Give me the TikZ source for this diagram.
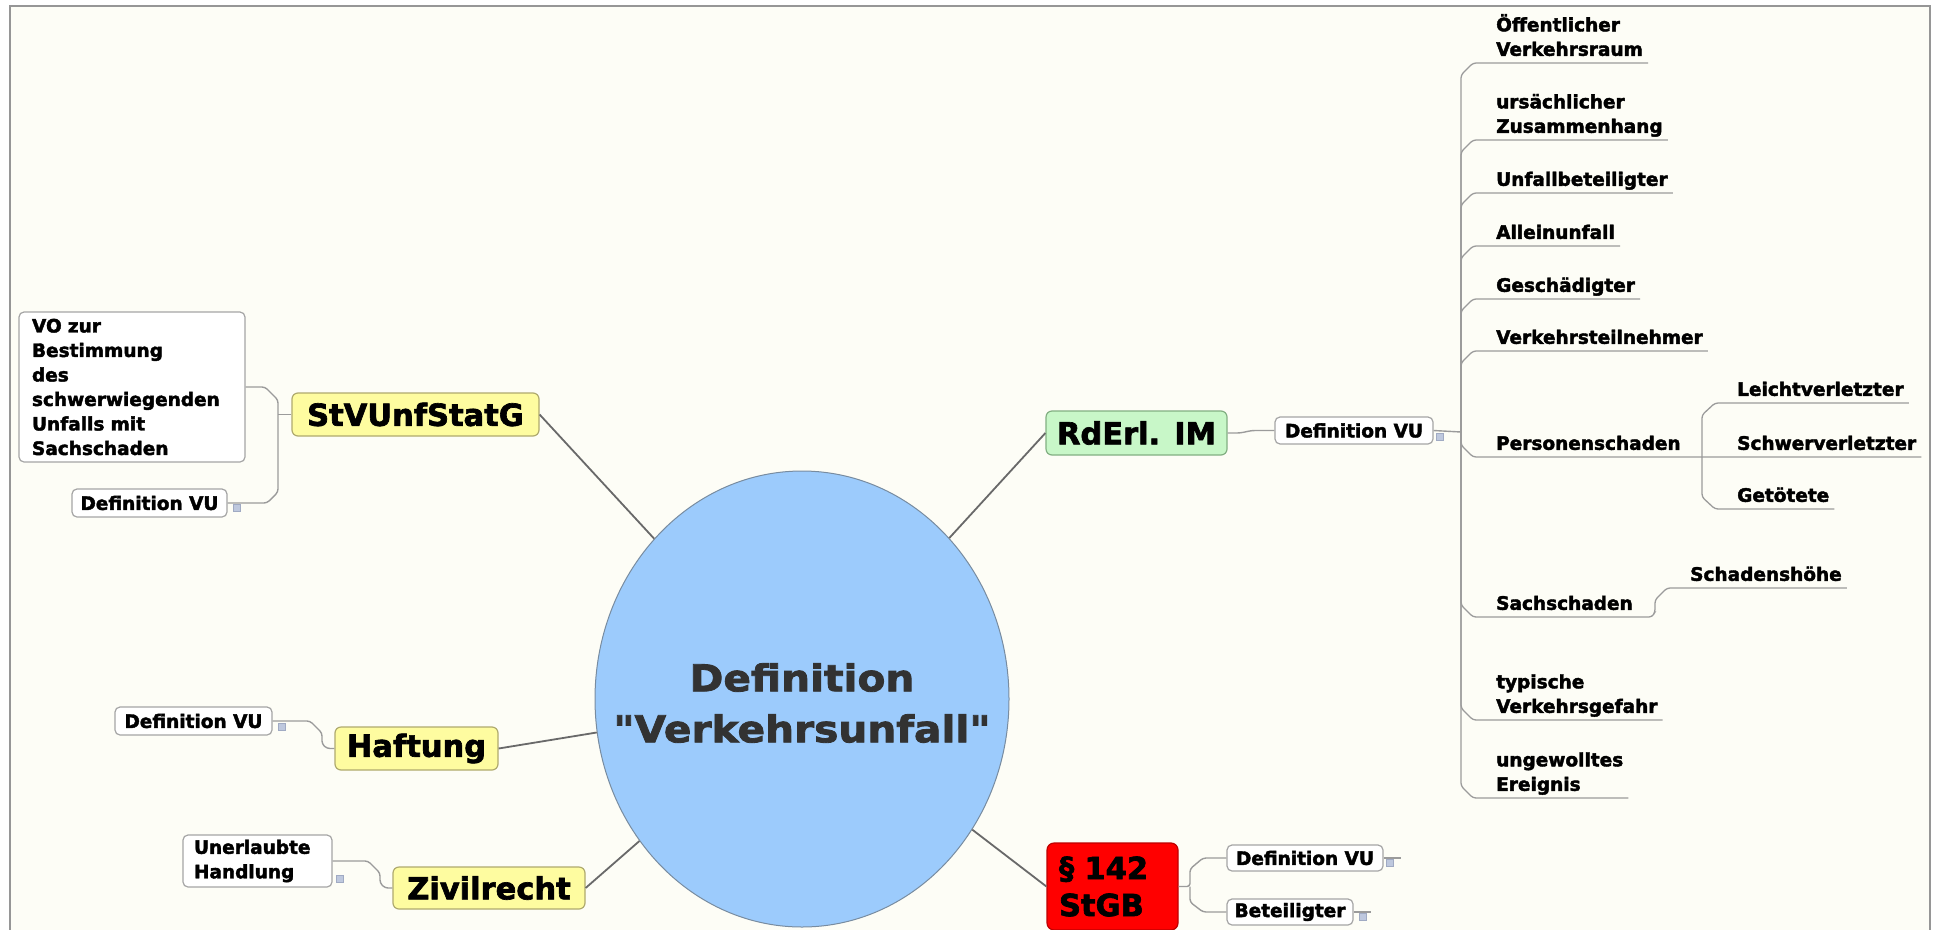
\documentclass[tikz,border=0pt]{standalone}
\usepackage{fontspec}
\setmainfont{DejaVu Sans}[BoldFeatures={FakeBold=2.2}]
\newfontfamily\widefont{DejaVu Sans}[FakeStretch=1.1, BoldFeatures={FakeBold=2.2}]
\usetikzlibrary{calc,shapes.geometric}
\definecolor{bgcream}{RGB}{253,253,246}
\definecolor{framegray}{RGB}{150,150,150}
\definecolor{ellblue}{RGB}{156,203,252}
\definecolor{ellborder}{RGB}{120,140,160}
\definecolor{yel}{RGB}{254,252,160}
\definecolor{yelborder}{RGB}{175,170,110}
\definecolor{grn}{RGB}{200,247,200}
\definecolor{grnborder}{RGB}{130,175,130}
\definecolor{redfill}{RGB}{255,0,0}
\definecolor{redborder}{RGB}{190,0,0}
\definecolor{boxborder}{RGB}{165,165,165}
\definecolor{mainline}{RGB}{105,105,105}
\definecolor{subline}{RGB}{155,155,155}
\definecolor{iconfill}{RGB}{190,200,222}
\definecolor{iconborder}{RGB}{160,170,195}
\definecolor{centertext}{RGB}{50,50,50}
\begin{document}
\begin{tikzpicture}[x=1pt,y=-1pt,
  smalltxt/.style={font=\bfseries\fontsize{18.5}{24.5}\selectfont},
  midtxt/.style={font=\bfseries\fontsize{30.5}{37}\selectfont},
  whitebox/.style={smalltxt, draw=boxborder, line width=1.2pt, fill=white, rounded corners=5pt, inner sep=0pt},
  yelbox/.style={midtxt, draw=yelborder, fill=yel, rounded corners=6pt, line width=1.2pt, inner sep=0pt},
  grnbox/.style={midtxt, draw=grnborder, fill=grn, rounded corners=6pt, line width=1.2pt, inner sep=0pt},
  redbox/.style={midtxt, draw=redborder, fill=redfill, rounded corners=7pt, line width=1.2pt, inner sep=0pt},
  rchild/.style={smalltxt, anchor=south west, inner xsep=0pt, inner ysep=7pt, text depth=0pt, align=left},
  mainconn/.style={draw=mainline, line width=1.8pt},
  subconn/.style={draw=subline, line width=1.4pt, rounded corners=3pt},
  treeline/.style={draw=subline, line width=1.3pt, rounded corners=3pt},
  iconsq/.style={draw=iconborder, fill=iconfill, line width=0.5pt, minimum size=7pt, inner sep=0pt},
]
\useasboundingbox (0,0) rectangle (1934,929);
\clip (0,0) rectangle (1934,929);
\fill[white] (0,0) rectangle (1934,929);
\draw[framegray, line width=1.5pt, fill=bgcream] (10,6) rectangle (1930,960);

% centre
\node[ellipse, draw=ellborder, fill=ellblue, line width=1pt, minimum width=414pt, minimum height=456pt, inner sep=0pt] (c) at (802,699) {};
\node[align=center, text=centertext, font=\widefont\bfseries\fontsize{37}{51}\selectfont, inner sep=0pt] (ctext) at (802,703) {Definition\\"Verkehrsunfall"};

% left side
\node[yelbox, minimum width=247pt, minimum height=43pt] (stv) at (415.5,414.5) {StVUnfStatG};
\node[whitebox, minimum width=226pt, minimum height=150pt, text width=200pt, align=left] (vo) at (132,387) {VO zur\\Bestimmung\\des\\schwerwiegenden\\Unfalls mit\\Sachschaden};
\node[whitebox, minimum width=155pt, minimum height=28pt] (dv1) at (149.5,503) {Definition VU};

\node[yelbox, minimum width=163pt, minimum height=43pt] (haft) at (416.5,748.5) {Haftung};
\node[whitebox, minimum width=157pt, minimum height=28pt] (dv2) at (193.5,721) {Definition VU};

\node[yelbox, minimum width=192pt, minimum height=42pt] (ziv) at (489,888) {Zivilrecht};
\node[whitebox, minimum width=149pt, minimum height=52pt, text width=127pt, align=left] (ue) at (257.5,861) {Unerlaubte\\Handlung};

% right side
\node[grnbox, minimum width=181pt, minimum height=44pt] (rd) at (1136.5,433) {RdErl. IM};
\node[whitebox, minimum width=158pt, minimum height=27pt] (dv3) at (1354,430.5) {Definition VU};

\node[redbox, minimum width=131pt, minimum height=87pt, text width=107pt, align=left] (st) at (1112.5,886.5) {§ 142\\StGB};
\node[whitebox, minimum width=156pt, minimum height=26pt] (dv4) at (1305,858) {Definition VU};
\node[whitebox, minimum width=126pt, minimum height=26pt] (bet) at (1290,912) {Beteiligter};

% right tree children
\coordinate (trunk) at (1461,432);
\node[rchild] (oef) at (1496,63) {Öffentlicher\\Verkehrsraum};
\node[rchild] (urs) at (1496,140) {ursächlicher\\Zusammenhang};
\node[rchild] (unf) at (1496,193) {Unfallbeteiligter};
\node[rchild] (all) at (1496,246) {Alleinunfall};
\node[rchild] (ges) at (1496,299) {Geschädigter};
\node[rchild] (vkt) at (1496,351) {Verkehrsteilnehmer};
\node[rchild] (per) at (1496,457) {Personenschaden};
\node[rchild] (lei) at (1737,403) {Leichtverletzter};
\node[rchild] (sch) at (1737,457) {Schwerverletzter};
\node[rchild] (get) at (1737,509) {Getötete};
\node[rchild] (sac) at (1496,617) {Sachschaden};
\node[rchild] (hoe) at (1690,588) {Schadenshöhe};
\node[rchild] (typ) at (1496,720) {typische\\Verkehrsgefahr};
\node[rchild] (ung) at (1496,798) {ungewolltes\\Ereignis};

% main connectors
\draw[mainconn] (stv.east) -- (c);
\draw[mainconn] (haft.east) -- (c);
\draw[mainconn] (ziv.east) -- (c);
\draw[mainconn] (rd.west) -- (c);
\draw[mainconn] (st.west) -- (c);

% sub connectors left
\draw[subconn] (stv.west) -- (278,414.5);
\draw[subconn] (vo.east) -- (265,387) -- (278,400) -- (278,492) -- (267,503) -- (dv1.east);
\draw[subconn] (dv2.east) -- (310,721) -- (322,733) -- (322,744) -- (327,748.5) -- (haft.west);
\draw[subconn] (ue.east) -- (368,861) -- (380,873) -- (380,883) -- (385,888) -- (ziv.west);

% sub connectors right
\draw[subconn] (rd.east) -- (1240,433) -- (1252,430.5) -- (dv3.west);
\draw[subconn] (dv3.east) -- (trunk);
\draw[subconn] (st.east) -- (1190,886.5) -- (1190,869) -- (1203,858) -- (dv4.west);
\draw[subconn] (1190,886.5) -- (1190,902) -- (1203,912) -- (bet.west);
\draw[subconn] (dv4.east) -- ++(17,0);
\draw[subconn] (bet.east) -- ++(17,0);

% tree
\foreach \n in {oef,urs,unf,all,ges,vkt}{
  \draw[treeline] (trunk) -- ($(\n.south west)+(-35,12)$) -- ($(\n.south west)+(-23,0)$) -- ($(\n.south east)+(5,0)$);
}
\foreach \n in {typ,ung}{
  \draw[treeline] (trunk) -- ($(\n.south west)+(-35,-12)$) -- ($(\n.south west)+(-23,0)$) -- ($(\n.south east)+(5,0)$);
}
\coordinate (ptrunk) at (1702,457);
\draw[treeline] (trunk) -- ($(per.south west)+(-35,-12)$) -- ($(per.south west)+(-23,0)$) -- (ptrunk) -- ($(sch.south east)+(5,0)$);
\draw[treeline] (ptrunk) -- ($(lei.south west)+(-35,12)$) -- ($(lei.south west)+(-22,0)$) -- ($(lei.south east)+(5,0)$);
\draw[treeline] (ptrunk) -- ($(get.south west)+(-35,-12)$) -- ($(get.south west)+(-22,0)$) -- ($(get.south east)+(5,0)$);
\draw[treeline] (trunk) -- ($(sac.south west)+(-35,-12)$) -- ($(sac.south west)+(-23,0)$) -- (1652,617) -- (1655,612) -- (1655,600) -- ($(hoe.south west)+(-23,0)$) -- ($(hoe.south east)+(5,0)$);

% note icons
\node[iconsq] (i1) at (237,508) {};
\node[iconsq] (i2) at (282,727) {};
\node[iconsq] (i3) at (340,879) {};
\node[iconsq] (i4) at (1440,437) {};
\node[iconsq] (i5) at (1390,863) {};
\node[iconsq] (i6) at (1363,917) {};
\end{tikzpicture}
\end{document}
